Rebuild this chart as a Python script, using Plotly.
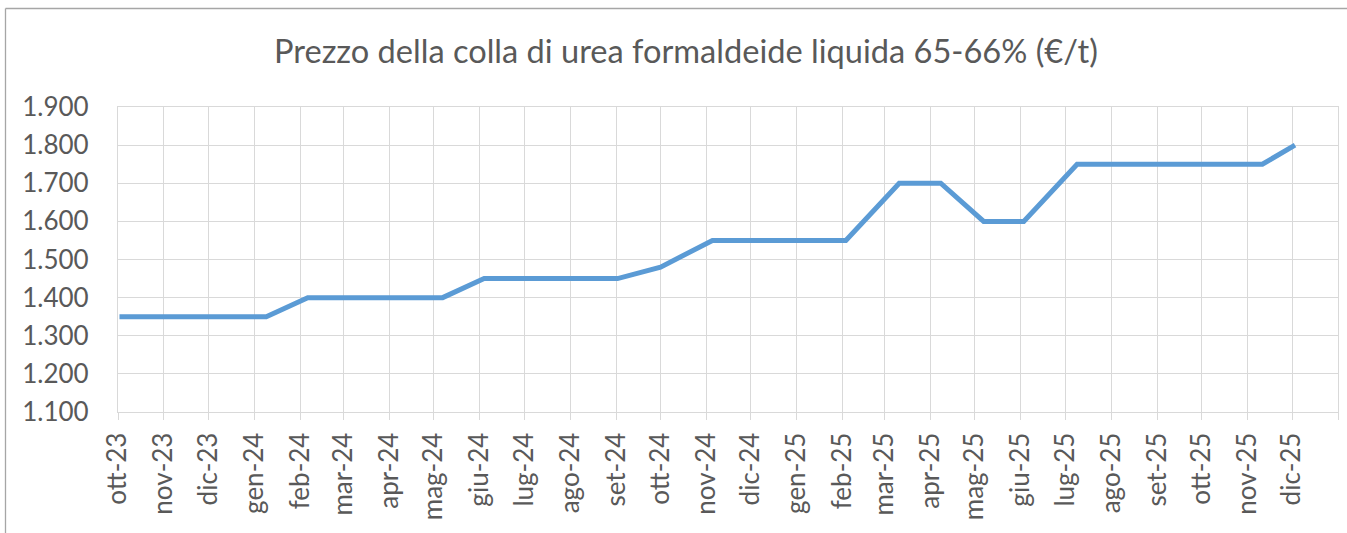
import plotly.graph_objects as go

# Data (vertices of the price line)
dates = ["2023-10-02", "2024-01-09", "2024-02-06", "2024-05-07", "2024-06-04",
         "2024-09-02", "2024-10-01", "2024-11-05", "2025-02-03", "2025-03-11",
         "2025-04-08", "2025-05-07", "2025-06-03", "2025-07-09", "2025-11-11",
         "2025-12-03"]
prices = [1350, 1350, 1400, 1400, 1450, 1450, 1480, 1550, 1550, 1700,
          1700, 1600, 1600, 1750, 1750, 1800]

tick_dates = ["2023-10-01", "2023-11-01", "2023-12-01", "2024-01-01", "2024-02-01",
              "2024-03-01", "2024-04-01", "2024-05-01", "2024-06-01", "2024-07-01",
              "2024-08-01", "2024-09-01", "2024-10-01", "2024-11-01", "2024-12-01",
              "2025-01-01", "2025-02-01", "2025-03-01", "2025-04-01", "2025-05-01",
              "2025-06-01", "2025-07-01", "2025-08-01", "2025-09-01", "2025-10-01",
              "2025-11-01", "2025-12-01", "2026-01-01"]
tick_labels = ["ott-23", "nov-23", "dic-23", "gen-24", "feb-24", "mar-24", "apr-24",
               "mag-24", "giu-24", "lug-24", "ago-24", "set-24", "ott-24", "nov-24",
               "dic-24", "gen-25", "feb-25", "mar-25", "apr-25", "mag-25", "giu-25",
               "lug-25", "ago-25", "set-25", "ott-25", "nov-25", "dic-25", ""]

y_ticks = [1100, 1200, 1300, 1400, 1500, 1600, 1700, 1800, 1900]
y_labels = ["1.100", "1.200", "1.300", "1.400", "1.500", "1.600", "1.700", "1.800", "1.900"]

title = "Prezzo della colla di urea formaldeide liquida 65-66% (€/t)"

FONT = "Lato"
GRID = "#d9d9d9"
TXT = "#595959"

fig = go.Figure()
fig.add_trace(go.Scatter(x=dates, y=prices, mode="lines",
                         line=dict(color="#5B9BD5", width=5),
                         hoverinfo="x+y", showlegend=False))

W, H = 1347, 533
ml, mr, mt, mb = 118, 9, 107, 121

fig.update_layout(
    width=W, height=H,
    margin=dict(l=ml, r=mr, t=mt, b=mb, autoexpand=False),
    paper_bgcolor="white", plot_bgcolor="white",
    title=dict(text=title, x=686 / W, xanchor="center", xref="container",
               y=1 - 52 / H, yanchor="middle", yref="container",
               font=dict(family=FONT, size=32.6, color=TXT)),
    xaxis=dict(type="date", range=["2023-10-01", "2026-01-01"],
               tickmode="array", tickvals=tick_dates, ticktext=tick_labels,
               tickangle=-90, showgrid=True, gridcolor=GRID, gridwidth=1.3,
               showline=True, linecolor=GRID, linewidth=1.3, mirror=True,
               ticks="outside", ticklen=7, tickcolor=GRID, tickwidth=1.3,
               ticklabelstandoff=2,
               tickfont=dict(family=FONT, size=26, color=TXT), zeroline=False),
    yaxis=dict(range=[1100, 1900], tickmode="array", tickvals=y_ticks,
               ticktext=y_labels, showgrid=True, gridcolor=GRID, gridwidth=1.3,
               showline=True, linecolor=GRID, linewidth=1.3, mirror=True,
               ticks="", ticklabelstandoff=23,
               tickfont=dict(family=FONT, size=26, color=TXT), zeroline=False),
)

# Chart-area border (top and left edges visible in the crop)
fig.add_shape(type="line", xref="paper", yref="paper",
              x0=(5.5 - ml) / (W - ml - mr), x1=1.2,
              y0=(H - mb - 8.5) / (H - mt - mb), y1=(H - mb - 8.5) / (H - mt - mb),
              line=dict(color="#a6a6a6", width=1.3))
fig.add_shape(type="line", xref="paper", yref="paper",
              x0=(5.5 - ml) / (W - ml - mr), x1=(5.5 - ml) / (W - ml - mr),
              y0=-1, y1=(H - mb - 8.5) / (H - mt - mb),
              line=dict(color="#a6a6a6", width=1.3))

fig.write_html("out.html", config={"displayModeBar": False},
               post_script="document.body.style.margin='0';document.body.style.overflow='hidden';")
